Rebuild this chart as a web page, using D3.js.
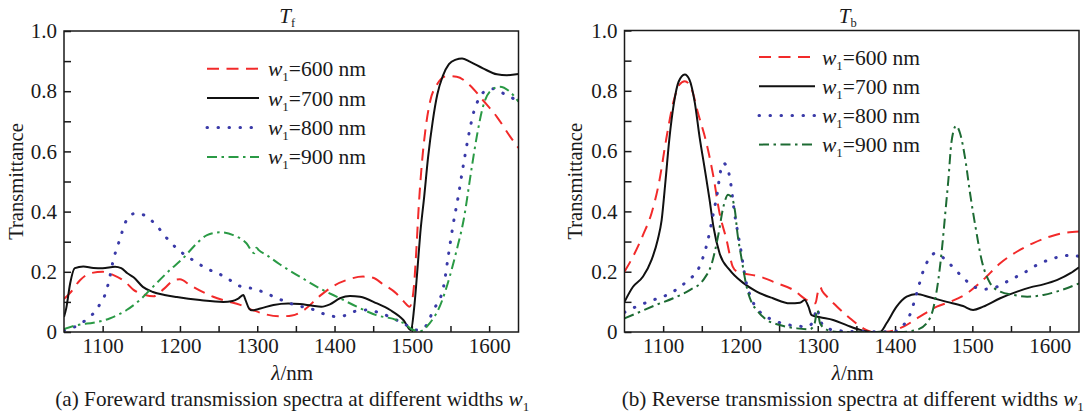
<!DOCTYPE html>
<html>
<head>
<meta charset="utf-8">
<script src="https://cdn.jsdelivr.net/npm/d3@7"></script>
<style>
  body { margin: 0; background: #fff; }
  svg text { font-family: "Liberation Serif", "Times New Roman", serif; fill: #1a1a1a; }
</style>
</head>
<body>
<svg id="chart" width="1087" height="419"></svg>
<script>
// ---- spectra: [wavelength nm, transmittance] ----
// forward transmission T_f
const tf600 = [[1050,0.11],[1058,0.13],[1071,0.173],[1084,0.195],[1100,0.2],[1114,0.189],[1129,0.167],[1140,0.14],[1155,0.123],[1166,0.119],[1180,0.145],[1192,0.172],[1200,0.175],[1213,0.156],[1228,0.135],[1243,0.117],[1260,0.103],[1278,0.09],[1295,0.072],[1312,0.058],[1330,0.052],[1345,0.055],[1360,0.072],[1381,0.12],[1400,0.155],[1416,0.173],[1437,0.184],[1450,0.18],[1462,0.16],[1480,0.128],[1490,0.1],[1497,0.084],[1500,0.1],[1503,0.16],[1506,0.28],[1509,0.42],[1513,0.56],[1518,0.68],[1524,0.77],[1532,0.82],[1545,0.85],[1558,0.848],[1575,0.82],[1592,0.77],[1610,0.715],[1627,0.65],[1638,0.612]];
const tf700 = [[1050,0.05],[1053,0.08],[1058,0.162],[1064,0.212],[1075,0.218],[1088,0.213],[1100,0.212],[1116,0.217],[1124,0.212],[1132,0.195],[1140,0.182],[1152,0.15],[1165,0.133],[1180,0.123],[1196,0.116],[1226,0.106],[1256,0.1],[1268,0.103],[1276,0.112],[1282,0.123],[1285,0.105],[1289,0.08],[1293,0.072],[1304,0.078],[1321,0.09],[1340,0.095],[1355,0.093],[1370,0.088],[1383,0.084],[1394,0.092],[1407,0.112],[1420,0.12],[1433,0.117],[1454,0.096],[1472,0.073],[1489,0.04],[1499,0.006],[1503,0.08],[1507,0.2],[1511,0.33],[1516,0.45],[1521,0.58],[1527,0.7],[1533,0.79],[1540,0.85],[1548,0.89],[1557,0.905],[1565,0.909],[1575,0.898],[1592,0.876],[1610,0.856],[1623,0.853],[1638,0.857]];
const tf800 = [[1050,0.005],[1062,0.015],[1073,0.03],[1083,0.05],[1091,0.07],[1098,0.1],[1104,0.13],[1109,0.18],[1113,0.23],[1122,0.306],[1131,0.372],[1142,0.394],[1153,0.389],[1167,0.361],[1185,0.306],[1198,0.273],[1216,0.24],[1234,0.212],[1257,0.185],[1279,0.151],[1297,0.143],[1310,0.13],[1328,0.11],[1346,0.092],[1372,0.075],[1391,0.056],[1403,0.051],[1414,0.055],[1424,0.067],[1441,0.073],[1459,0.063],[1476,0.045],[1493,0.023],[1506,0.007],[1515,0.012],[1528,0.073],[1541,0.15],[1547,0.25],[1553,0.35],[1560,0.45],[1567,0.56],[1574,0.66],[1580,0.73],[1588,0.78],[1597,0.804],[1606,0.808],[1614,0.798],[1627,0.782],[1638,0.765]];
const tf900 = [[1050,0.01],[1071,0.025],[1088,0.031],[1109,0.045],[1131,0.073],[1148,0.106],[1165,0.15],[1187,0.206],[1204,0.245],[1222,0.295],[1235,0.322],[1252,0.331],[1269,0.322],[1286,0.295],[1296,0.262],[1299,0.28],[1302,0.272],[1312,0.256],[1329,0.225],[1355,0.184],[1381,0.145],[1407,0.112],[1429,0.084],[1454,0.056],[1480,0.04],[1492,0.025],[1498,0.012],[1505,0.004],[1511,0.003],[1523,0.029],[1536,0.084],[1549,0.184],[1558,0.272],[1567,0.372],[1577,0.538],[1584,0.649],[1592,0.748],[1603,0.804],[1614,0.815],[1627,0.798],[1638,0.765]];

// reverse transmission T_b
const tb600 = [[1050,0.2],[1061,0.25],[1074,0.322],[1085,0.394],[1095,0.5],[1104,0.64],[1113,0.76],[1121,0.82],[1128,0.832],[1137,0.804],[1145,0.727],[1156,0.627],[1165,0.516],[1173,0.394],[1182,0.306],[1190,0.217],[1196,0.2],[1225,0.184],[1247,0.162],[1268,0.14],[1286,0.106],[1297,0.095],[1300,0.13],[1303,0.15],[1306,0.135],[1312,0.117],[1325,0.084],[1342,0.045],[1359,0.012],[1372,0],[1389,0.001],[1411,0.018],[1432,0.051],[1454,0.084],[1471,0.1],[1493,0.128],[1514,0.173],[1536,0.228],[1558,0.267],[1579,0.295],[1601,0.317],[1618,0.328],[1638,0.333]];
const tb700 = [[1050,0.1],[1061,0.15],[1074,0.184],[1085,0.239],[1093,0.306],[1098,0.37],[1103,0.5],[1108,0.64],[1114,0.76],[1120,0.83],[1128,0.854],[1134,0.837],[1141,0.76],[1147,0.649],[1154,0.538],[1160,0.44],[1165,0.35],[1173,0.261],[1186,0.206],[1204,0.162],[1221,0.134],[1242,0.112],[1264,0.095],[1277,0.097],[1283,0.106],[1288,0.084],[1292,0.056],[1303,0.049],[1320,0.04],[1338,0.022],[1355,0.007],[1372,0],[1381,0.001],[1389,0.029],[1402,0.084],[1415,0.117],[1428,0.126],[1445,0.115],[1467,0.1],[1488,0.086],[1501,0.073],[1514,0.084],[1536,0.112],[1558,0.134],[1575,0.148],[1592,0.158],[1610,0.173],[1627,0.195],[1638,0.215]];
const tb800 = [[1050,0.065],[1065,0.084],[1087,0.106],[1109,0.128],[1130,0.167],[1147,0.217],[1158,0.306],[1165,0.394],[1170,0.46],[1174,0.53],[1178,0.56],[1183,0.545],[1187,0.5],[1192,0.4],[1200,0.28],[1207,0.17],[1215,0.106],[1225,0.067],[1242,0.04],[1264,0.023],[1286,0.018],[1294,0.034],[1299,0.079],[1303,0.04],[1312,0.012],[1329,0.004],[1342,0.002],[1398,0.001],[1411,0.023],[1420,0.062],[1428,0.128],[1437,0.206],[1443,0.239],[1452,0.261],[1463,0.245],[1476,0.212],[1489,0.178],[1502,0.15],[1515,0.142],[1532,0.15],[1549,0.173],[1566,0.195],[1584,0.223],[1601,0.241],[1618,0.252],[1630,0.255],[1638,0.25]];
const tb900 = [[1050,0.045],[1070,0.067],[1091,0.09],[1113,0.112],[1135,0.14],[1152,0.173],[1163,0.228],[1171,0.317],[1178,0.416],[1184,0.455],[1189,0.445],[1193,0.4],[1196,0.33],[1201,0.25],[1208,0.15],[1215,0.095],[1221,0.073],[1234,0.04],[1251,0.023],[1273,0.012],[1290,0.009],[1296,0.029],[1299.5,0.073],[1303,0.029],[1312,0.007],[1325,0],[1407,0],[1428,0.007],[1441,0.029],[1450,0.084],[1456,0.173],[1461,0.283],[1465,0.394],[1469,0.505],[1473,0.63],[1479,0.684],[1484,0.66],[1491,0.571],[1497,0.461],[1504,0.35],[1512,0.239],[1523,0.162],[1536,0.134],[1553,0.123],[1571,0.117],[1592,0.123],[1614,0.138],[1638,0.161]];

// ---- labels ----
const widthLabels = ["600", "700", "800", "900"];
const xTickValues = [1100, 1200, 1300, 1400, 1500, 1600];
const yTickValues = [0, 0.2, 0.4, 0.6, 0.8, 1.0];
const yTickLabels = ["0", "0.2", "0.4", "0.6", "0.8", "1.0"];
const captionA = "(a) Foreward transmission spectra at different widths ";
const captionB = "(b) Reverse transmission spectra at different widths ";

// ---- drawing ----
const svg = d3.select("#chart");
const TICK_FONT = 21;
const LEGEND_FONT = 21.5;

const lineStyles = [
  { color: "#f22a2a", dash: "12,7.5", width: 2, cap: "butt" },
  { color: "#111111", dash: null, width: 2, cap: "butt" },
  { color: "#3a3aa8", dash: "0.5,10.5", width: 3, cap: "round" },
  { color: "#2a9a45", dash: "10,4.5,2.5,4.5", width: 2, cap: "butt" }
];
const textColors = ["#f22a2a", "#1a1a1a", "#3a3aa8", "#2a9a45"];

const panels = [
  { key: "a", box: { x0: 64, x1: 518.5, y0: 31, y1: 332 }, sub: "f",
    series: [tf600, tf700, tf800, tf900], green: "#2a9a45",
    legend: { x0: 207, x1: 259, tx: 268, y0: 68.7, dy: 29.4 },
    yLabelX: 16, caption: captionA },
  { key: "b", box: { x0: 624.5, x1: 1079, y0: 30.5, y1: 332 }, sub: "b",
    series: [tb600, tb700, tb800, tb900], green: "#1d6b33",
    legend: { x0: 759, x1: 815, tx: 822, y0: 57, dy: 29.2 },
    yLabelX: 575, caption: captionB }
];

panels.forEach(p => {
  const b = p.box;
  const x = d3.scaleLinear().domain([1050, 1638]).range([b.x0, b.x1]);
  const y = d3.scaleLinear().domain([0, 1]).range([b.y1, b.y0]);
  const g = svg.append("g");

  // clip for the curves
  const clipId = "clip-" + p.key;
  svg.append("clipPath").attr("id", clipId)
    .append("rect").attr("x", b.x0).attr("y", b.y0)
    .attr("width", b.x1 - b.x0).attr("height", b.y1 - b.y0);

  // bottom axis: ticks every 50 nm, labels every 100 nm
  const xAxis = d3.axisBottom(x)
    .tickValues(d3.range(1100, 1640, 50))
    .tickSizeInner(-6).tickSizeOuter(0).tickPadding(6)
    .tickFormat(d => xTickValues.includes(d) ? d : "");
  const gx = g.append("g").attr("transform", `translate(0,${b.y1})`).call(xAxis);
  gx.select(".domain").remove();
  gx.selectAll("line").attr("stroke", "#1a1a1a").attr("stroke-width", 1.5);
  gx.selectAll("text").attr("font-size", TICK_FONT).attr("fill", "#1a1a1a")
    .attr("font-family", "Liberation Serif");

  // left axis: ticks every 0.1, labels every 0.2
  const yAxis = d3.axisLeft(y)
    .tickValues(d3.range(0, 11).map(i => i / 10))
    .tickSizeInner(-7).tickSizeOuter(0).tickPadding(7)
    .tickFormat(d => {
      const i = yTickValues.findIndex(v => Math.abs(v - d) < 1e-6);
      return i >= 0 ? yTickLabels[i] : "";
    });
  const gy = g.append("g").attr("transform", `translate(${b.x0},0)`).call(yAxis);
  gy.select(".domain").remove();
  gy.selectAll("line").attr("stroke", "#1a1a1a").attr("stroke-width", 1.5);
  gy.selectAll("text").attr("font-size", TICK_FONT).attr("fill", "#1a1a1a")
    .attr("font-family", "Liberation Serif");

  // curves
  const line = d3.line().x(d => x(d[0])).y(d => y(d[1])).curve(d3.curveMonotoneX);
  const curves = g.append("g").attr("clip-path", `url(#${clipId})`);
  p.series.forEach((s, i) => {
    const st = lineStyles[i];
    curves.append("path").datum(s)
      .attr("d", line).attr("fill", "none")
      .attr("stroke", i === 3 ? p.green : st.color)
      .attr("stroke-width", st.width)
      .attr("stroke-linecap", st.cap)
      .attr("stroke-linejoin", "round")
      .attr("stroke-dasharray", st.dash);
  });

  // frame
  g.append("rect").attr("x", b.x0).attr("y", b.y0)
    .attr("width", b.x1 - b.x0).attr("height", b.y1 - b.y0)
    .attr("fill", "none").attr("stroke", "#1a1a1a").attr("stroke-width", 1.5);

  // legend
  const L = p.legend;
  widthLabels.forEach((w, i) => {
    const st = lineStyles[i];
    const ly = L.y0 + i * L.dy;
    g.append("line").attr("x1", L.x0).attr("x2", L.x1).attr("y1", ly).attr("y2", ly)
      .attr("stroke", i === 3 ? p.green : st.color).attr("stroke-width", st.width)
      .attr("stroke-linecap", st.cap).attr("stroke-dasharray", st.dash);
    const t = g.append("text").attr("x", L.tx).attr("y", ly + 7.5)
      .attr("font-size", LEGEND_FONT).attr("fill", textColors[i]);
    t.append("tspan").attr("font-style", "italic").text("w");
    t.append("tspan").attr("font-size", 13).attr("dy", 5).text("1");
    t.append("tspan").attr("dy", -5).text("=" + w + " nm");
  });

  // panel title T_f / T_b
  const cx = (b.x0 + b.x1) / 2;
  const title = g.append("text").attr("x", cx - 4).attr("y", 23)
    .attr("text-anchor", "middle").attr("font-size", 21);
  title.append("tspan").attr("font-style", "italic").text("T");
  title.append("tspan").attr("font-size", 12.5).attr("dy", 4).text(p.sub);

  // axis titles
  g.append("text").attr("transform", `translate(${p.yLabelX},${(b.y0 + b.y1) / 2}) rotate(-90)`)
    .attr("text-anchor", "middle").attr("dy", "0.35em").attr("font-size", 20.5)
    .text("Transmittance");
  const xl = g.append("text").attr("x", cx + 1).attr("y", 380)
    .attr("text-anchor", "middle").attr("font-size", 21);
  xl.append("tspan").attr("font-style", "italic").text("λ");
  xl.append("tspan").text("/nm");

  // caption
  const cap = g.append("text").attr("x", cx + 1).attr("y", 406)
    .attr("text-anchor", "middle").attr("font-size", 21.2);
  cap.append("tspan").text(p.caption);
  cap.append("tspan").attr("font-style", "italic").text("w");
  cap.append("tspan").attr("font-size", 13).attr("dy", 5).text("1");
});
</script>
</body>
</html>
